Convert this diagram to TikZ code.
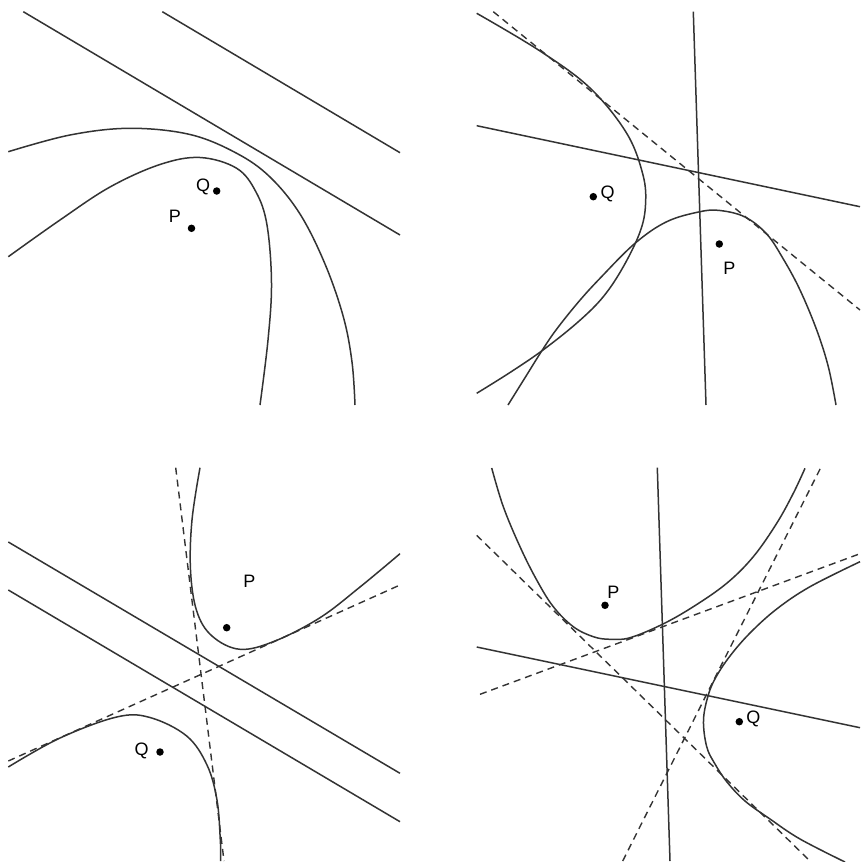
\documentclass[tikz,border=0pt]{standalone}
\usepackage{fontspec}
\setmainfont{Liberation Sans}
\begin{document}
\begin{tikzpicture}[x=1pt,y=-1pt,
  ln/.style={draw=black!80,line width=1.5pt},
  dln/.style={draw=black!80,line width=1.4pt,dash pattern=on 7pt off 5pt},
  crv/.style={draw=black!80,line width=1.5pt,smooth,tension=0.6},
  pt/.style={circle,fill=black,inner sep=0pt,minimum size=7.5pt},
  lbl/.style={inner sep=0pt,font=\fontsize{18}{20}\selectfont}]
\useasboundingbox[fill=white] (0,0) rectangle (861,862);
% ---------- panel 1 ----------
\coordinate (a1) at (23.3,11.7); \coordinate (a2) at (400,235);
\coordinate (b1) at (162.3,11.7); \coordinate (b2) at (400,152.7);
\draw[ln] (a1) -- (a2);
\draw[ln] (b1) -- (b2);
\draw[crv] plot coordinates {(8.3,151.7) (70,135) (130,128.3) (190,134.5) (236.7,153.3) (270,177) (300,214) (325,264) (343.3,316.7) (352,362) (355,405)};
\draw[crv] plot coordinates {(8.3,256.7) (60,220) (110,187) (160,164.5) (200,157.5) (236.7,168.3) (256,192) (267,225) (271.5,283) (268,340) (260,405)};
\node[pt] (q1) at (216.7,191) {};
\node[lbl] (q1l) at (203,187) {Q};
\node[pt] (p1) at (191.5,228.3) {};
\node[lbl] (p1l) at (175,216) {P};
% ---------- panel 2 ----------
\coordinate (c1) at (693.3,11.7); \coordinate (c2) at (706,405);
\coordinate (d1) at (476.7,125.7); \coordinate (d2) at (860,206.7);
\coordinate (e1) at (493.3,11.7); \coordinate (e2) at (860,310);
\draw[ln] (c1) -- (c2);
\draw[ln] (d1) -- (d2);
\draw[dln] (e1) -- (e2);
\draw[crv] plot coordinates {(476.7,13.3) (540,51) (590,88) (626.7,133.3) (643,175) (645.5,205) (640,232) (623.3,266.7) (603.3,296.7) (578,322) (543,350) (510,372.5) (476.7,393.3)};
\draw[crv] plot coordinates {(508,405) (526.7,375) (541.7,351) (556,330) (578,302.5) (600,278.3) (635,243.3) (666.7,221.7) (700,211.7) (720,210.5) (745,217) (766.7,234) (783.3,259) (800,290) (816.7,330) (828.3,366.7) (836,405)};
\node[pt] (q2) at (593.3,196.7) {};
\node[lbl] (q2l) at (607.7,194) {Q};
\node[pt] (p2) at (719.3,244) {};
\node[lbl] (p2l) at (729.3,268.3) {P};
% ---------- panel 3 ----------
\coordinate (f1) at (8.3,542); \coordinate (f2) at (400,773.3);
\coordinate (g1) at (8.3,590); \coordinate (g2) at (400,821.7);
\coordinate (h1) at (175.7,467.7); \coordinate (h2) at (224,861);
\coordinate (i1) at (8.3,761); \coordinate (i2) at (400,585);
\draw[ln] (f1) -- (f2);
\draw[ln] (g1) -- (g2);
\draw[dln] (h1) -- (h2);
\draw[dln] (i1) -- (i2);
\draw[crv] plot coordinates {(200,467.7) (192,520) (190.5,570) (196.7,611) (212,636) (240,649.3) (275,641) (320,617.7) (360,587) (400,553.7)};
\draw[crv] plot coordinates {(8.3,767) (60,738) (116.7,717) (150,717.5) (186.7,736) (207,765) (217,800) (220.3,840) (220.7,861)};
\node[pt] (p3) at (226.7,627.7) {};
\node[lbl] (p3l) at (249.3,581.7) {P};
\node[pt] (q3) at (160,752) {};
\node[lbl] (q3l) at (141.7,751) {Q};
% ---------- panel 4 ----------
\coordinate (j1) at (657.3,467.7); \coordinate (j2) at (670,861);
\coordinate (k1) at (476.7,647); \coordinate (k2) at (860,727.7);
\coordinate (l1) at (476.7,535.3); \coordinate (l2) at (810,861);
\coordinate (m1) at (480,694.3); \coordinate (m2) at (860,553.7);
\coordinate (n1) at (622.7,861); \coordinate (n2) at (820.7,467.7);
\draw[ln] (j1) -- (j2);
\draw[ln] (k1) -- (k2);
\draw[dln] (l1) -- (l2);
\draw[dln] (m1) -- (m2);
\draw[dln] (n1) -- (n2);
\draw[crv] plot coordinates {(491.7,468) (503.3,506.7) (520,546.7) (536.7,580) (553.3,606.7) (573.3,626.7) (593.3,636.7) (610,639.3) (630,637.7) (662,624.5) (693.3,606.7) (726.7,583.3) (753.3,556.7) (776.7,523.3) (793.3,493.3) (805,468.3)};
\draw[crv] plot coordinates {(860,561.7) (810,586.7) (776.7,609) (750,633) (730,656) (716,677) (708.3,695) (703.5,720) (706.7,746.7) (715,764) (727,782) (745,801) (770,819) (800,839) (845,862)};
\node[pt] (p4) at (605,605.3) {};
\node[lbl] (p4l) at (613.3,592.7) {P};
\node[pt] (q4) at (739.3,721.7) {};
\node[lbl] (q4l) at (753.3,719.3) {Q};
\end{tikzpicture}
\end{document}
